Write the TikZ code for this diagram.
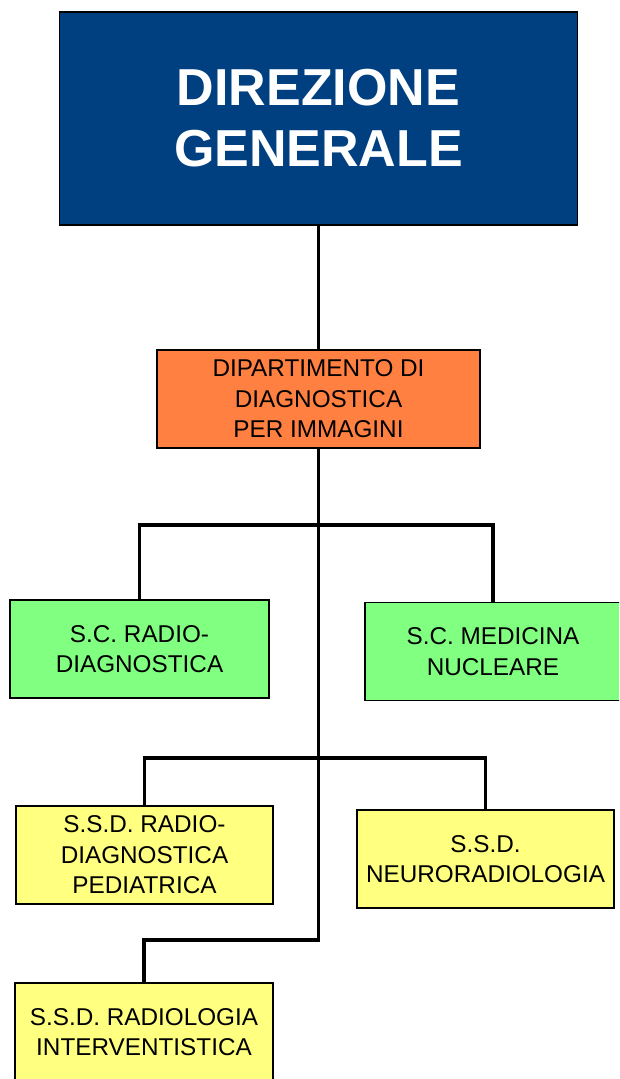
\documentclass[tikz,border=0pt]{standalone}
\usepackage{fontspec}
\setmainfont{Liberation Sans}
\definecolor{dgblue}{RGB}{0,64,128}
\definecolor{dorange}{RGB}{255,128,64}
\definecolor{dgreen}{RGB}{128,255,128}
\definecolor{dyellow}{RGB}{255,255,128}
\begin{document}
\begin{tikzpicture}[x=1pt,y=1pt,
  box/.style={draw=black,line width=1.4pt,rectangle,align=center,inner sep=0pt,
    minimum height=98pt,font=\fontsize{24.3}{30.5}\selectfont},
  conn/.style={line width=3.2pt,draw=black}]
\useasboundingbox (0,0) rectangle (619,1079);
\clip (0,0) rectangle (619,1079);
\fill[white] (0,0) rectangle (619,1079);
\node[box,fill=dgblue,text=white,minimum width=518pt,minimum height=213pt,
  font=\fontsize{52}{61}\selectfont\bfseries] (dg) at (318.5,960.5) {DIREZIONE\\GENERALE};
\node[box,fill=dorange,minimum width=323pt] (dip) at (318.5,680) {DIPARTIMENTO DI\\DIAGNOSTICA\\PER IMMAGINI};
\node[box,fill=dgreen,minimum width=259pt] (scr) at (139.5,430) {S.C. RADIO-\\DIAGNOSTICA};
\node[box,fill=dgreen,minimum width=256pt] (scm) at (493,427.5) {S.C. MEDICINA\\NUCLEARE};
\node[box,fill=dyellow,minimum width=257pt] (ssdp) at (144.5,224) {S.S.D. RADIO-\\DIAGNOSTICA\\PEDIATRICA};
\node[box,fill=dyellow,minimum width=257pt] (ssdn) at (485.5,220) {S.S.D.\\NEURORADIOLOGIA};
\node[box,fill=dyellow,minimum width=258pt] (ssdi) at (144,47) {S.S.D. RADIOLOGIA\\INTERVENTISTICA};
\coordinate (b1) at (318.5,554);
\coordinate (b2) at (318.5,321);
\coordinate (b3) at (318.5,139);
\draw[conn] (dg.south) -- (dip.north);
\draw[conn] (dip.south) -- (b3) -| (ssdi.north);
\draw[conn] (scr.north) |- (b1) -| (scm.north);
\draw[conn] (ssdp.north) |- (b2) -| (ssdn.north);
\end{tikzpicture}
\end{document}
